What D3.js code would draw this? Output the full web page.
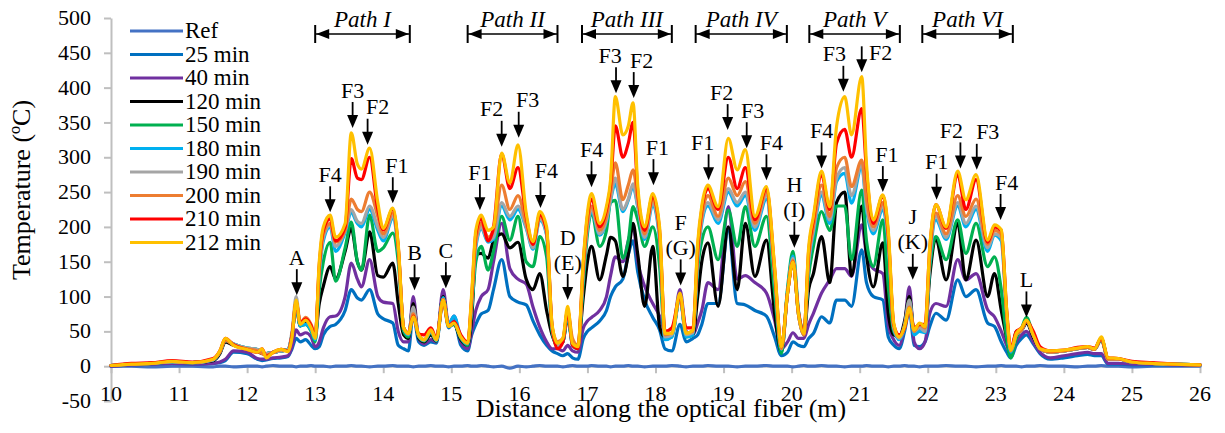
<!DOCTYPE html>
<html>
<head>
<meta charset="utf-8">
<script src="https://cdn.jsdelivr.net/npm/d3@7"></script>
<style>
  body { margin: 0; background: #fff; position: relative; }
  svg { display: block; }
</style>
</head>
<body>
<svg id="chart" width="1225" height="433"></svg>
<div id="labels" style="position:absolute;left:0;top:0;width:1225px;height:433px;pointer-events:none"></div>
<script>
// Sampling positions along the fibre (m)
const distance = [
  10.0, 10.3, 10.6, 10.9, 11.2, 11.5, 11.6, 11.68, 11.8, 12.0, 12.15, 12.22, 12.28, 12.38, 12.5, 12.6,
  12.66, 12.72, 12.78, 12.86, 12.94, 13.0,
  13.06, 13.12, 13.22, 13.3, 13.44, 13.53, 13.62, 13.68, 13.8, 13.92, 14.0, 14.14, 14.22, 14.3,
  14.37, 14.44, 14.52, 14.6, 14.7, 14.78, 14.88, 14.96, 15.04, 15.14, 15.24,
  15.3, 15.36, 15.44, 15.54, 15.62, 15.74, 15.86, 15.98, 16.1, 16.2, 16.3, 16.4, 16.48,
  16.56, 16.64, 16.71, 16.78, 16.86,
  16.94, 17.0, 17.06, 17.18, 17.28, 17.34, 17.41, 17.52, 17.6, 17.67, 17.74, 17.84, 17.96, 18.06,
  18.14, 18.24, 18.36, 18.45, 18.55,
  18.62, 18.68, 18.77, 18.92, 19.07, 19.2, 19.32, 19.46, 19.63, 19.75, 19.85,
  19.94, 20.02, 20.1, 20.18,
  20.25, 20.32, 20.44, 20.56, 20.66, 20.78, 20.88, 21.03, 21.1, 21.2, 21.34, 21.42, 21.5,
  21.58, 21.66, 21.73, 21.8, 21.88, 21.96,
  22.03, 22.12, 22.27, 22.44, 22.56, 22.71, 22.88, 22.98, 23.08, 23.16, 23.22,
  23.3, 23.38, 23.45, 23.55, 23.65, 23.8, 24.0, 24.2, 24.35, 24.45, 24.55, 24.65, 24.8, 25.0, 25.3, 25.6, 26.0
];

// Temperature (ºC) for each measurement, same order as distance
const tRef = [
  0, 0, -1, 0, 0, -1, 0, 0, -1, 0, 0, -1, 0, 1, 0, 0,
  0, -1, 0, 0, 1, 0,
  0, 0, -1, 0, 0, 1, 0, 0, -1, 0, 0, 1, 0, 0,
  0, -1, 0, 0, 1, 0, 0, -1, 0, 0, 1,
  0, 0, 1, 0, -1, 0, -3, 0, -1, 0, 1, 0, 0,
  0, -1, 0, 1, 0,
  0, 0, 1, 0, 0, -1, 0, 0, 1, 0, 0, -1, 0, 0,
  0, 1, 0, -1, 0,
  0, 0, 1, 0, 0, -1, 0, 0, 1, 0, 0,
  0, -1, 0, 1,
  0, 0, 1, 0, 0, -1, 0, 0, 1, 0, 0, -1, 0,
  0, 1, 0, 0, -1, 0,
  0, 0, 1, 0, 0, -1, 0, 0, 1, 0, 0,
  0, -1, 0, 0, 1, 0, 0, -1, 0, 0, 1, 0, 0, -1, 0, 0, 0
];
const t25 = [
  0, 2, 3, 4, 3, 4, 5, 8, 20, 18, 10, 8, 9, 11, 12, 14,
  25, 40, 35, 38, 30, 25,
  28, 45, 57, 60, 80, 110, 98, 95, 110, 75, 68, 62, 30, 25,
  22, 75, 35, 30, 35, 33, 95, 55, 65, 30, 22,
  45, 60, 75, 80, 110, 153, 100, 92, 88, 65, 45, 30, 22,
  18, 15, 18, 12, 10,
  40, 50, 55, 65, 80, 100, 114, 125, 160, 180, 135, 95, 70, 52,
  25, 22, 60, 35, 40,
  45, 60, 90, 90, 195, 90, 88, 80, 72, 42, 15,
  20, 35, 30, 28,
  40, 47, 71, 62, 95, 95, 86, 167, 120, 100, 95, 42, 30,
  25, 50, 80, 30, 28, 35,
  57, 76, 66, 124, 100, 110, 62, 57, 35, 20, 12,
  30, 40, 45, 32, 18, 10, 12, 15, 17, 15, 15, 3, 3, 2, 2, 2, 1
];
const t40 = [
  0, 2, 3, 4, 3, 4, 6, 10, 22, 20, 11, 10, 10, 12, 13, 15,
  28, 52, 45, 48, 42, 28,
  35, 55, 71, 72, 100, 148, 125, 114, 153, 100, 92, 90, 50, 35,
  35, 100, 40, 32, 38, 35, 110, 60, 72, 35, 25,
  50, 80, 100, 110, 150, 205, 140, 125, 118, 85, 56, 35, 25,
  25, 22, 30, 22, 20,
  55, 65, 70, 80, 100, 130, 157, 150, 180, 200, 150, 115, 90, 72,
  50, 45, 110, 50, 45,
  62, 80, 120, 110, 229, 125, 130, 120, 105, 66, 25,
  35, 48, 40, 40,
  60, 76, 105, 124, 140, 140, 129, 203, 160, 140, 133, 60, 38,
  30, 60, 114, 35, 25, 35,
  76, 90, 86, 153, 124, 133, 81, 71, 50, 30, 18,
  35, 45, 50, 35, 20, 12, 15, 18, 20, 18, 18, 4, 4, 3, 3, 2, 2
];
const t120 = [
  1, 3, 4, 6, 5, 8, 18, 35, 30, 25, 22, 18, 18, 20, 22, 24,
  45, 85, 58, 62, 55, 45,
  90, 115, 143, 125, 165, 198, 150, 138, 193, 130, 128, 148, 90, 45,
  40, 90, 40, 35, 45, 36, 100, 58, 60, 38, 30,
  70, 160, 162, 155, 180, 190, 170, 178, 125, 110, 133, 80, 45,
  30, 35, 70, 35, 30,
  100, 150, 172, 124, 160, 185, 180, 129, 160, 205, 160, 86, 172, 57,
  42, 45, 100, 45, 45,
  100, 150, 177, 86, 200, 110, 205, 129, 181, 76, 20,
  105, 150, 75, 45,
  110, 133, 186, 120, 235, 250, 130, 230, 160, 114, 177, 76, 45,
  42, 65, 100, 50, 55, 50,
  130, 181, 124, 205, 124, 181, 100, 133, 80, 40, 15,
  50, 52, 62, 42, 25, 20, 22, 25, 27, 24, 38, 10, 10, 6, 4, 3, 2
];
const t150 = [
  1, 3, 4, 6, 5, 9, 20, 37, 32, 26, 24, 20, 18, 20, 22, 24,
  45, 85, 58, 60, 50, 35,
  110, 150, 178, 122, 170, 207, 150, 138, 217, 165, 170, 191, 150, 50,
  42, 80, 42, 36, 48, 36, 98, 58, 60, 40, 30,
  80, 150, 172, 138, 165, 215, 181, 215, 150, 143, 186, 157, 50,
  28, 35, 72, 30, 25,
  120, 190, 220, 172, 195, 235, 238, 155, 180, 229, 210, 172, 200, 143,
  40, 42, 100, 42, 45,
  140, 180, 200, 153, 224, 172, 229, 172, 215, 105, 18,
  112, 165, 80, 50,
  130, 172, 222, 195, 230, 230, 153, 253, 180, 143, 210, 114, 50,
  40, 58, 95, 48, 52, 50,
  140, 186, 153, 210, 162, 205, 143, 157, 110, 40, 12,
  40, 55, 70, 45, 25, 20, 22, 25, 27, 24, 40, 10, 10, 6, 4, 3, 2
];
const t180 = [
  1, 3, 4, 6, 5, 9, 20, 37, 32, 26, 24, 20, 18, 20, 22, 24,
  45, 88, 58, 60, 52, 38,
  130, 180, 200, 165, 192, 220, 205, 200, 225, 195, 180, 212, 165, 55,
  45, 80, 43, 37, 50, 37, 98, 60, 72, 42, 32,
  90, 170, 198, 178, 182, 230, 210, 225, 198, 168, 210, 188, 55,
  28, 35, 75, 30, 25,
  135, 198, 222, 188, 208, 238, 262, 222, 238, 258, 228, 182, 232, 180,
  38, 42, 98, 42, 45,
  150, 205, 230, 205, 250, 230, 245, 195, 240, 128, 24,
  108, 158, 78, 48,
  145, 190, 245, 205, 265, 277, 234, 287, 225, 190, 225, 175, 55,
  38, 55, 90, 45, 50, 48,
  150, 210, 182, 230, 200, 225, 165, 188, 180, 72, 20,
  45, 52, 65, 45, 25, 20, 22, 25, 27, 24, 40, 10, 10, 6, 4, 3, 2
];
const t190 = [
  1, 3, 4, 6, 5, 9, 21, 38, 32, 26, 24, 20, 18, 20, 22, 24,
  50, 100, 62, 66, 56, 42,
  135, 185, 203, 172, 195, 225, 208, 205, 230, 200, 185, 215, 168, 55,
  46, 85, 44, 37, 50, 38, 96, 58, 62, 42, 33,
  90, 175, 200, 180, 185, 235, 215, 230, 200, 170, 212, 190, 56,
  30, 38, 78, 35, 28,
  135, 200, 225, 190, 210, 240, 270, 225, 240, 262, 230, 185, 235, 185,
  42, 45, 100, 45, 48,
  155, 210, 235, 210, 255, 235, 250, 200, 245, 130, 25,
  105, 155, 75, 45,
  150, 195, 250, 210, 270, 285, 245, 290, 230, 195, 230, 180, 55,
  40, 60, 95, 50, 55, 50,
  155, 215, 185, 235, 205, 230, 170, 190, 185, 75, 22,
  45, 52, 65, 45, 25, 20, 22, 25, 27, 24, 40, 10, 10, 6, 4, 3, 2
];
const t200 = [
  1, 3, 4, 7, 5, 10, 20, 37, 30, 25, 22, 18, 16, 19, 24, 22,
  45, 92, 62, 70, 60, 45,
  140, 190, 205, 178, 195, 240, 225, 222, 250, 215, 190, 220, 170, 55,
  47, 75, 45, 38, 52, 38, 96, 58, 62, 42, 33,
  95, 180, 205, 185, 195, 260, 225, 245, 205, 175, 215, 195, 58,
  35, 40, 80, 40, 30,
  140, 205, 230, 195, 215, 250, 292, 239, 260, 282, 240, 190, 240, 190,
  45, 48, 100, 48, 50,
  160, 215, 245, 215, 270, 245, 265, 205, 250, 135, 25,
  105, 152, 75, 45,
  155, 200, 260, 215, 285, 300, 258, 296, 240, 200, 235, 185, 58,
  42, 55, 85, 50, 60, 55,
  160, 220, 190, 245, 215, 240, 175, 195, 190, 75, 22,
  45, 52, 65, 45, 25, 20, 22, 25, 27, 24, 40, 10, 10, 6, 4, 3, 2
];
const t210 = [
  1, 4, 5, 8, 6, 11, 22, 40, 31, 24, 20, 25, 14, 20, 24, 22,
  45, 92, 62, 68, 58, 42,
  145, 195, 212, 180, 200, 298, 270, 268, 300, 225, 196, 225, 172, 55,
  48, 72, 46, 45, 55, 40, 95, 58, 64, 45, 34,
  100, 190, 212, 180, 200, 305, 255, 285, 215, 175, 218, 195, 58,
  25, 35, 80, 30, 25,
  150, 215, 240, 200, 225, 260, 345, 300, 320, 350, 250, 195, 245, 195,
  50, 55, 100, 55, 55,
  170, 225, 255, 225, 300, 255, 285, 210, 255, 140, 28,
  105, 150, 78, 50,
  165, 210, 275, 225, 320, 340, 300, 370, 280, 205, 245, 190, 60,
  45, 55, 82, 55, 60, 60,
  170, 232, 198, 275, 225, 268, 178, 200, 195, 80, 25,
  50, 55, 65, 50, 28, 22, 23, 27, 28, 26, 40, 12, 11, 7, 5, 3, 2
];
const t212 = [
  1, 3, 4, 7, 5, 10, 22, 40, 30, 24, 20, 25, 12, 20, 24, 21,
  42, 95, 60, 66, 55, 40,
  150, 200, 217, 185, 205, 335, 290, 283, 313, 235, 198, 227, 175, 55,
  47, 71, 45, 38, 52, 38, 95, 57, 62, 42, 33,
  105, 195, 217, 195, 200, 306, 263, 318, 220, 179, 222, 200, 60,
  33, 40, 86, 33, 28,
  153, 220, 248, 205, 230, 268, 387, 332, 345, 378, 258, 200, 248, 200,
  47, 47, 105, 47, 52,
  177, 230, 260, 229, 327, 282, 311, 215, 258, 143, 28,
  105, 150, 76, 47,
  170, 215, 280, 229, 344, 387, 332, 416, 290, 210, 246, 195, 62,
  42, 57, 83, 52, 62, 57,
  172, 232, 200, 280, 239, 275, 181, 203, 196, 80, 23,
  47, 55, 66, 45, 25, 22, 23, 26, 28, 25, 42, 12, 11, 6, 4, 3, 2
];

const seriesNames = ["Ref", "25 min", "40 min", "120 min", "150 min", "180 min", "190 min", "200 min", "210 min", "212 min"];
const seriesValues = [tRef, t25, t40, t120, t150, t180, t190, t200, t210, t212];
const seriesColors = ["#4472C4", "#0070C0", "#7030A0", "#000000", "#00B050", "#00B0F0", "#A5A5A5", "#ED7D31", "#FF0000", "#FFC000"];

const xTicks = [10, 11, 12, 13, 14, 15, 16, 17, 18, 19, 20, 21, 22, 23, 24, 25, 26];
const yTicks = [-50, 0, 50, 100, 150, 200, 250, 300, 350, 400, 450, 500];

// Heating paths along the fibre (m)
const pathNames = ["Path I", "Path II", "Path III", "Path IV", "Path V", "Path VI"];
const pathStart = [13.0, 15.24, 16.92, 18.59, 20.26, 21.92];
const pathEnd = [14.39, 16.56, 18.24, 19.93, 21.59, 23.25];

// Point markers: label lines, position (m) and temperature at the arrow tip (ºC)
const markLabels = [
  ["A"], ["F4"], ["F3"], ["F2"], ["F1"], ["B"], ["C"],
  ["F1"], ["F2"], ["F3"], ["F4"], ["D", "(E)"],
  ["F4"], ["F3"], ["F2"], ["F1"], ["F", "(G)"],
  ["F1"], ["F2"], ["F3"], ["F4"], ["H", "(I)"],
  ["F4"], ["F3"], ["F2"], ["F1"], ["J", "(K)"],
  ["F1"], ["F2"], ["F3"], ["F4"], ["L"]
];
const markX = [
  12.73, 13.22, 13.55, 13.77, 14.14, 14.46, 14.92,
  15.42, 15.74, 15.99, 16.31, 16.71,
  17.06, 17.42, 17.68, 17.97, 18.37,
  18.78, 19.06, 19.34, 19.63, 20.04,
  20.44, 20.76, 21.03, 21.34, 21.78,
  22.13, 22.48, 22.72, 23.07, 23.45
];
const markT = [
  102, 221, 342, 318, 234, 109, 112,
  224, 315, 328, 227, 95,
  257, 392, 385, 260, 116,
  267, 339, 313, 267, 170,
  284, 394, 422, 250, 124,
  239, 284, 282, 210, 70
];

seriesValues.forEach((v, i) => {
  if (v.length !== distance.length) throw new Error(seriesNames[i] + " has " + v.length + " values");
});

const svg = d3.select("#chart");
const labels = d3.select("#labels");
const x = d3.scaleLinear().domain([10, 26]).range([111, 1200]);
const y = d3.scaleLinear().domain([-50, 500]).range([401, 18]);
const axisGrey = "#bfbfbf";

// Text is laid out as HTML on top of the drawing; (px, baseline) is the anchor point
function addText(str, px, baseline, size, anchor = "middle", italic = false) {
  const shift = anchor === "middle" ? "-50%" : anchor === "end" ? "-100%" : "0";
  return labels.append("div")
    .style("position", "absolute")
    .style("white-space", "nowrap")
    .style("font-family", "'Liberation Serif'")
    .style("color", "#000")
    .style("font-size", size + "px")
    .style("line-height", size + "px")
    .style("left", px + "px")
    .style("top", (baseline - 0.8375 * size) + "px")
    .style("transform", `translateX(${shift})`)
    .style("font-style", italic ? "italic" : "normal")
    .text(str);
}

// Vertical axis
const gy = svg.append("g")
  .attr("transform", `translate(${x(10)},0)`)
  .call(d3.axisLeft(y).tickValues(yTicks).tickSize(7).tickSizeOuter(0).tickFormat(() => ""));
gy.select(".domain").attr("stroke", axisGrey).attr("stroke-width", 2);
gy.selectAll(".tick line").attr("stroke", axisGrey).attr("stroke-width", 2);
yTicks.forEach(v => addText(String(v), 91, y(v) + 7.5, 22, "end"));

// Horizontal axis through zero, labels at the bottom
const gx = svg.append("g")
  .attr("transform", `translate(0,${y(0)})`)
  .call(d3.axisBottom(x).tickValues(xTicks).tickSize(7).tickSizeOuter(0).tickFormat(() => ""));
gx.select(".domain").attr("stroke", axisGrey).attr("stroke-width", 2);
gx.selectAll(".tick line").attr("stroke", axisGrey).attr("stroke-width", 2);
xTicks.forEach(v => addText(String(v), x(v), 401, 22, "middle"));

// Axis titles
addText("Distance along the optical fiber (m)", 661, 418, 26, "middle");
addText("Temperature (ºC)", 22, 190, 26, "middle")
  .style("top", "177px")
  .style("transform", "translateX(-50%) rotate(-90deg)");

// Temperature profiles
const line = d3.line()
  .x((d, i) => x(distance[i]))
  .y(d => y(d))
  .curve(d3.curveMonotoneX);

svg.append("g").selectAll("path")
  .data(seriesValues)
  .join("path")
  .attr("d", line)
  .attr("fill", "none")
  .attr("stroke", (d, i) => seriesColors[i])
  .attr("stroke-width", 3.2)
  .attr("stroke-linejoin", "round")
  .attr("stroke-linecap", "round");

// Legend
const legend = svg.append("g");
seriesNames.forEach((name, i) => {
  const ly = 31 + i * 23.5;
  legend.append("line")
    .attr("x1", 130).attr("x2", 183).attr("y1", ly).attr("y2", ly)
    .attr("stroke", seriesColors[i]).attr("stroke-width", 3.2);
  addText(name, 185, ly + 7.5, 23, "start");
});

// Path brackets
const bracketY = 34;
const pathG = svg.append("g");
pathNames.forEach((name, i) => {
  const x0 = x(pathStart[i]), x1 = x(pathEnd[i]);
  pathG.append("line").attr("x1", x0).attr("x2", x1).attr("y1", bracketY).attr("y2", bracketY)
    .attr("stroke", "#000").attr("stroke-width", 1.6);
  [x0, x1].forEach(xx => pathG.append("line")
    .attr("x1", xx).attr("x2", xx).attr("y1", bracketY - 9).attr("y2", bracketY + 9)
    .attr("stroke", "#000").attr("stroke-width", 2));
  pathG.append("path")
    .attr("d", `M${x0 + 1},${bracketY}L${x0 + 14},${bracketY - 5}L${x0 + 14},${bracketY + 5}Z`)
    .attr("fill", "#000");
  pathG.append("path")
    .attr("d", `M${x1 - 1},${bracketY}L${x1 - 14},${bracketY - 5}L${x1 - 14},${bracketY + 5}Z`)
    .attr("fill", "#000");
  addText(name, (x0 + x1) / 2, 27, 23, "middle", true);
});

// Marker arrows; some labels sit a little to one side of their arrow
const labelShift = { 3: [10, 0], 4: [4, 0], 8: [-10, 0], 9: [9, 0], 10: [6, 0],
  13: [-6, 0], 14: [8, 0], 15: [4, 0], 17: [-6, 0], 18: [-6, 0], 19: [6, 0], 20: [5, 0],
  23: [-9, 0], 24: [19, 18], 25: [4, 0], 28: [-9, 0], 29: [11, 0], 30: [6, 0] };
const markG = svg.append("g");
markLabels.forEach((lines, i) => {
  const px = x(markX[i]);
  const tip = y(markT[i]);
  markG.append("line")
    .attr("x1", px).attr("x2", px).attr("y1", tip - 26).attr("y2", tip - 10)
    .attr("stroke", "#000").attr("stroke-width", 1.8);
  markG.append("path")
    .attr("d", `M${px},${tip}L${px - 5.5},${tip - 13}L${px + 5.5},${tip - 13}Z`)
    .attr("fill", "#000");
  const [dx, dy] = labelShift[i] || [0, 0];
  lines.forEach((t, k) => {
    addText(t, px + dx, tip - 30 + dy - (lines.length - 1 - k) * 25, 22, "middle");
  });
});
</script>
</body>
</html>
